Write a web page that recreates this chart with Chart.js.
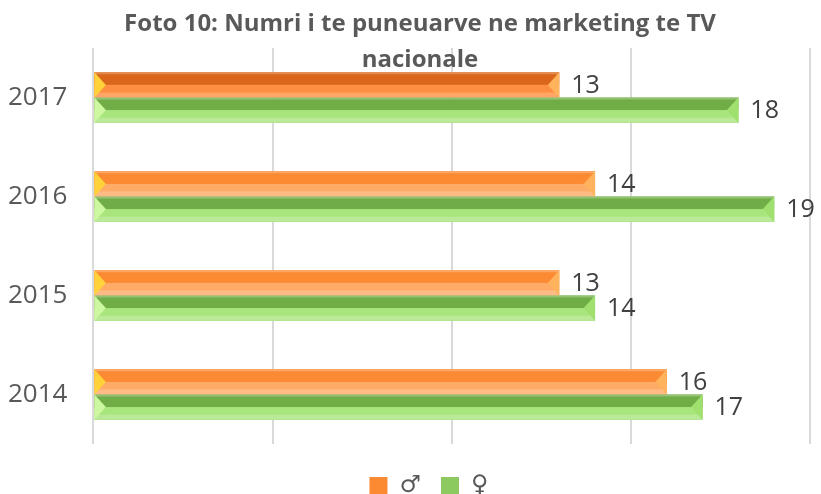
<!DOCTYPE html>
<html>
<head>
<meta charset="utf-8">
<script src="https://cdn.jsdelivr.net/npm/chart.js@4.4.1/dist/chart.umd.min.js"></script>
<style>
  html, body { margin:0; padding:0; background:#fff; }
  #wrap { width:821px; height:494px; position:relative; }
</style>
</head>
<body>
<div id="wrap"><canvas id="chart" width="821" height="494"></canvas></div>
<script>
const years = ['2017', '2016', '2015', '2014'];
const male = [13, 14, 13, 16];
const female = [18, 19, 14, 17];
const xTicks = [0, 5, 10, 15, 20];
const seriesNames = ['\u2642', '\u2640'];

const txt = '#595959';
const FONT = "'Open Sans', 'Liberation Sans', sans-serif";

// bevel colours: top band, bottom band, left cap, right cap
const shades = [
  ['#fb8a33', '#ffab68', '#ffd23a', '#ffb35c'],
  ['#70ad47', '#a9e57d', '#cdf7a0', '#9fe06e']
];
// the first orange bar looks highlighted (darker) in the source
const hiTop = '#d9661a', hiBottom = '#ff8f40';

const bevel = {
  id: 'bevel',
  afterDatasetsDraw(chart) {
    const ctx = chart.ctx;
    chart.data.datasets.forEach((ds, di) => {
      const meta = chart.getDatasetMeta(di);
      const c = shades[di];
      meta.data.forEach((bar, i) => {
        const x0 = bar.base, x1 = bar.x;
        const y0 = bar.y - bar.height / 2, y1 = bar.y + bar.height / 2;
        const h = y1 - y0, mid = bar.y;
        const cap = h * 0.45;
        const hi = di === 0 && i === 0;
        ctx.save();
        ctx.fillStyle = hi ? hiTop : c[0];
        ctx.fillRect(x0, y0, x1 - x0, h / 2);
        ctx.fillStyle = hi ? hiBottom : c[1];
        ctx.fillRect(x0, mid, x1 - x0, h / 2);
        ctx.fillStyle = 'rgba(255,255,255,0.25)';
        ctx.fillRect(x0, y0, x1 - x0, 2);
        ctx.fillStyle = 'rgba(255,255,255,0.2)';
        ctx.fillRect(x0, y1 - h * 0.2, x1 - x0, h * 0.2);
        // left cap
        ctx.fillStyle = c[2];
        ctx.beginPath();
        ctx.moveTo(x0, y0); ctx.lineTo(x0 + cap, mid); ctx.lineTo(x0, y1); ctx.closePath();
        ctx.fill();
        // right cap
        ctx.fillStyle = c[3];
        ctx.beginPath();
        ctx.moveTo(x1, y0); ctx.lineTo(x1 - cap, mid); ctx.lineTo(x1, y1); ctx.closePath();
        ctx.fill();
        // value label
        ctx.fillStyle = '#404040';
        ctx.font = '25px ' + FONT;
        ctx.textBaseline = 'middle';
        ctx.textAlign = 'left';
        ctx.fillText(String(ds.data[i]), x1 + 12, mid + 1);
        ctx.restore();
      });
    });
  }
};

// nudge title and legend to where the source has them
const place = {
  id: 'place',
  afterLayout(chart) {
    const t = chart.titleBlock;
    if (t) {
      const dx = 420 - (t.left + t.right) / 2;
      t.left += dx; t.right += dx;
    }
    const lg = chart.legend;
    if (lg) {
      const dy = 481 - (lg.top + lg.bottom) / 2;
      const dx = 429 - (lg.left + lg.right) / 2;
      lg.top += dy; lg.bottom += dy;
      lg.left += dx; lg.right += dx;
    }
  }
};

new Chart(document.getElementById('chart'), {
  type: 'bar',
  data: {
    labels: years,
    datasets: [
      { label: seriesNames[0], data: male, backgroundColor: '#fb8a33', borderWidth: 0 },
      { label: seriesNames[1], data: female, backgroundColor: '#8cc95f', borderWidth: 0 }
    ]
  },
  options: {
    indexAxis: 'y',
    responsive: false,
    animation: false,
    categoryPercentage: 0.51,
    barPercentage: 1,
    layout: { padding: { left: -18, right: 11, top: 4, bottom: -4 } },
    plugins: {
      title: {
        display: true,
        text: ['Foto 10: Numri i te puneuarve ne marketing te TV', 'nacionale'],
        color: txt,
        font: { family: "'Liberation Sans Narrow', " + FONT, size: 24, weight: 'bold', lineHeight: 1.5 },
        padding: { top: 2, bottom: -30 }
      },
      legend: {
        position: 'bottom',
        labels: {
          color: txt,
          font: { family: "'DejaVu Sans', sans-serif", size: 24 },
          boxWidth: 18, boxHeight: 18, padding: 20
        }
      },
      tooltip: { enabled: false }
    },
    scales: {
      x: {
        min: 0, max: 20,
        afterBuildTicks: (ax) => { ax.ticks = xTicks.map(v => ({ value: v })); },
        ticks: { display: false },
        grid: { color: '#d9d9d9', lineWidth: 2, drawTicks: false },
        border: { display: false }
      },
      y: {
        ticks: { color: txt, font: { family: FONT, size: 26 }, padding: 26 },
        grid: { display: false, drawTicks: false },
        border: { display: false }
      }
    }
  },
  plugins: [bevel, place]
});
</script>
</body>
</html>
